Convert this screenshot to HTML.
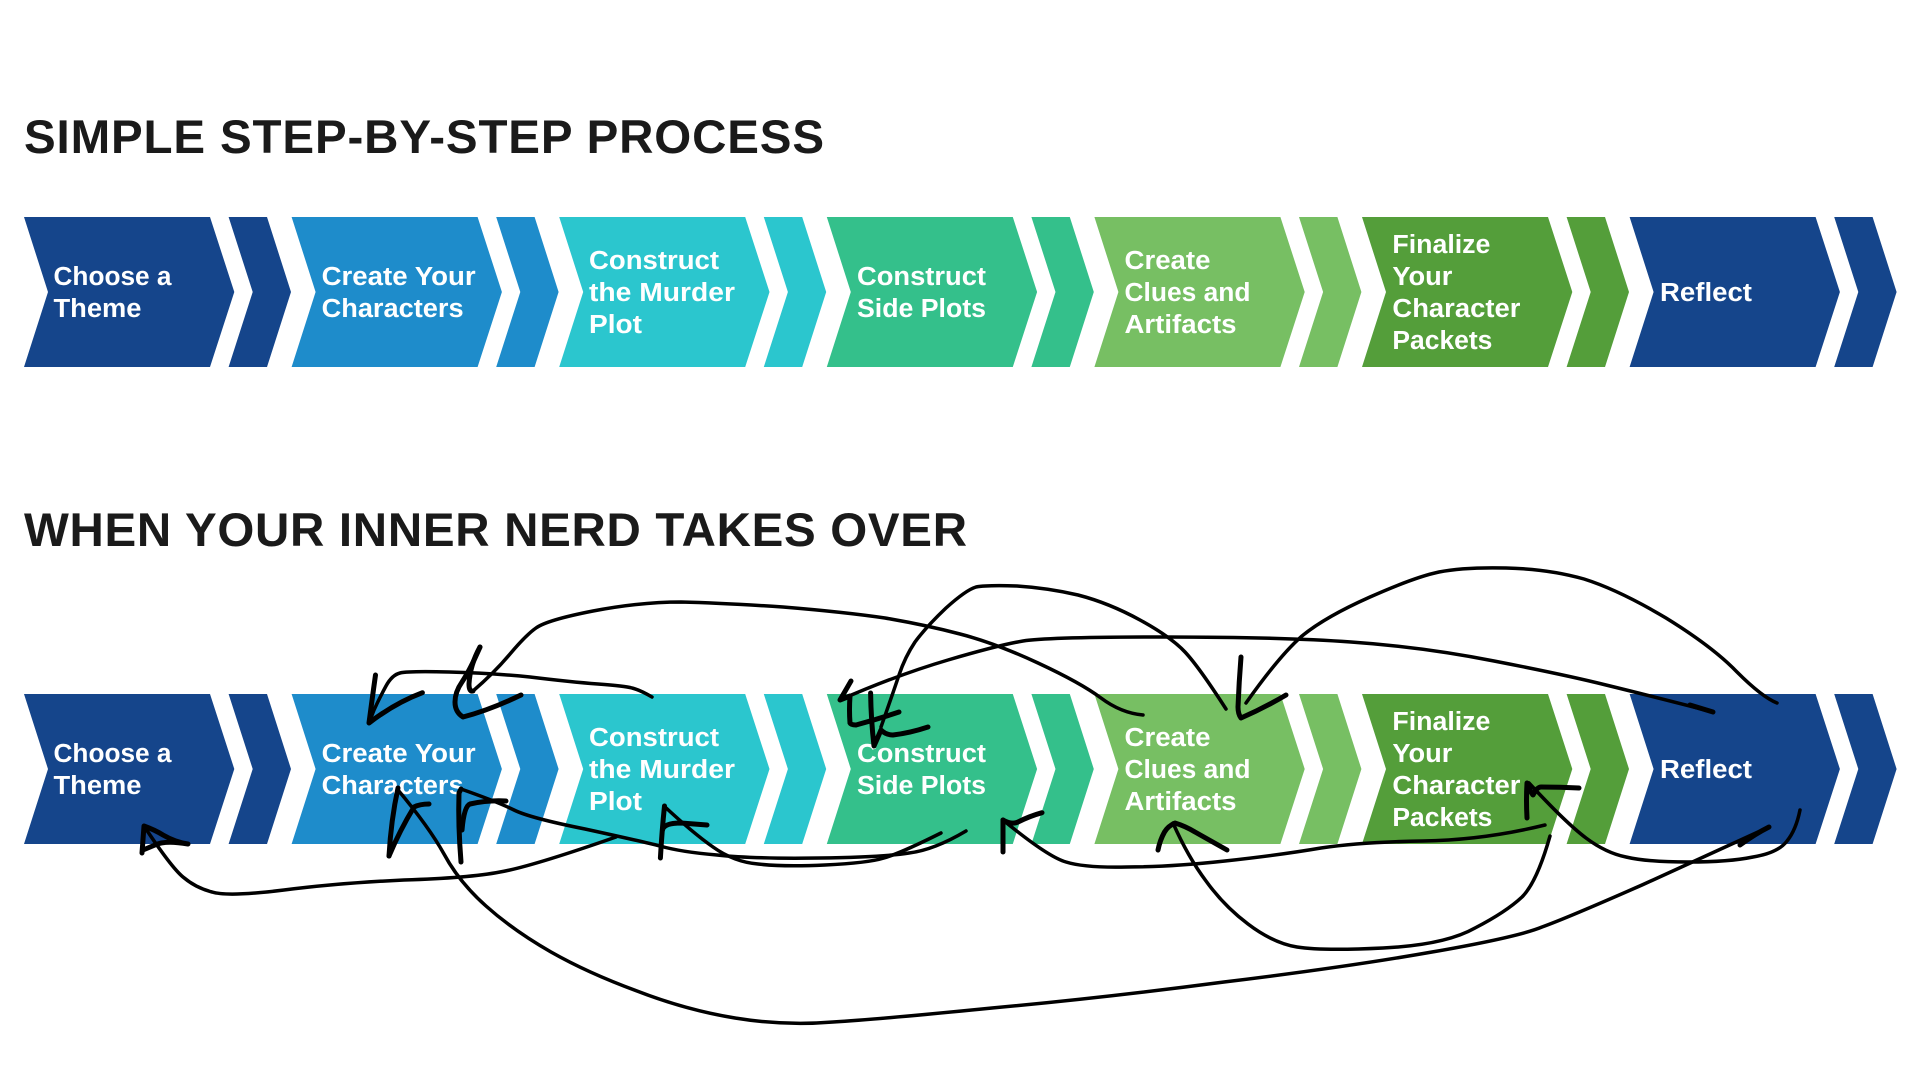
<!DOCTYPE html>
<html lang="en">
<head>
<meta charset="utf-8">
<title>Process diagram</title>
<style>
html,body{margin:0;padding:0;background:#fff}
svg{display:block}
.h{font-family:"Liberation Sans",sans-serif;font-weight:700;font-size:47.5px;fill:#1a1a1a}
.t{font-family:"Liberation Sans",sans-serif;font-weight:700;font-size:25.5px;fill:#fff}
.s{fill:none;stroke:#000;stroke-width:3.5;stroke-linecap:round;stroke-linejoin:round}
.a{fill:none;stroke:#000;stroke-width:5;stroke-linecap:round;stroke-linejoin:round}
</style>
</head>
<body>
<svg xmlns="http://www.w3.org/2000/svg" width="1920" height="1080" viewBox="0 0 1920 1080">
<rect width="1920" height="1080" fill="#fff"/>
<defs>
<g id="c">
<polygon points="24,0 210,0 234.3,75 210,150 24,150 48,75"/>
<polygon points="228.6,0 267,0 291,75 267,150 228.6,150 252.7,75"/>
</g>
<g id="row">
<use href="#c" fill="#15458b"/>
<use href="#c" x="267.6" fill="#1e8ccb"/>
<use href="#c" x="535.2" fill="#2bc6ce"/>
<use href="#c" x="802.8" fill="#34c08b"/>
<use href="#c" x="1070.4" fill="#77bf63"/>
<use href="#c" x="1338" fill="#549e3a"/>
<use href="#c" x="1605.6" fill="#15458b"/>
</g>
</defs>

<text class="h" x="24" y="153" textLength="800" lengthAdjust="spacing">SIMPLE STEP-BY-STEP PROCESS</text>
<text class="h" x="24" y="546" textLength="943" lengthAdjust="spacing">WHEN YOUR INNER NERD TAKES OVER</text>

<use href="#row" y="217"/>
<use href="#row" y="694"/>

<!-- Row 1 labels -->
<text class="t" x="53.5" y="285" textLength="118" lengthAdjust="spacingAndGlyphs">Choose a</text>
<text class="t" x="53.5" y="317" textLength="88" lengthAdjust="spacingAndGlyphs">Theme</text>
<text class="t" x="321.6" y="285" textLength="154" lengthAdjust="spacingAndGlyphs">Create Your</text>
<text class="t" x="321.6" y="317" textLength="142" lengthAdjust="spacingAndGlyphs">Characters</text>
<text class="t" x="589" y="269" textLength="130" lengthAdjust="spacingAndGlyphs">Construct</text>
<text class="t" x="589" y="301" textLength="146" lengthAdjust="spacingAndGlyphs">the Murder</text>
<text class="t" x="589" y="333" textLength="53" lengthAdjust="spacingAndGlyphs">Plot</text>
<text class="t" x="857" y="285" textLength="129" lengthAdjust="spacingAndGlyphs">Construct</text>
<text class="t" x="857" y="317" textLength="129" lengthAdjust="spacingAndGlyphs">Side Plots</text>
<text class="t" x="1124.5" y="269" textLength="86" lengthAdjust="spacingAndGlyphs">Create</text>
<text class="t" x="1124.5" y="301" textLength="126" lengthAdjust="spacingAndGlyphs">Clues and</text>
<text class="t" x="1124.5" y="333" textLength="112" lengthAdjust="spacingAndGlyphs">Artifacts</text>
<text class="t" x="1392.4" y="253" textLength="98" lengthAdjust="spacingAndGlyphs">Finalize</text>
<text class="t" x="1392.4" y="285" textLength="60" lengthAdjust="spacingAndGlyphs">Your</text>
<text class="t" x="1392.4" y="317" textLength="128" lengthAdjust="spacingAndGlyphs">Character</text>
<text class="t" x="1392.4" y="349" textLength="100" lengthAdjust="spacingAndGlyphs">Packets</text>
<text class="t" x="1660" y="301" textLength="92" lengthAdjust="spacingAndGlyphs">Reflect</text>

<!-- Row 2 labels -->
<text class="t" x="53.5" y="762" textLength="118" lengthAdjust="spacingAndGlyphs">Choose a</text>
<text class="t" x="53.5" y="794" textLength="88" lengthAdjust="spacingAndGlyphs">Theme</text>
<text class="t" x="321.6" y="762" textLength="154" lengthAdjust="spacingAndGlyphs">Create Your</text>
<text class="t" x="321.6" y="794" textLength="142" lengthAdjust="spacingAndGlyphs">Characters</text>
<text class="t" x="589" y="746" textLength="130" lengthAdjust="spacingAndGlyphs">Construct</text>
<text class="t" x="589" y="778" textLength="146" lengthAdjust="spacingAndGlyphs">the Murder</text>
<text class="t" x="589" y="810" textLength="53" lengthAdjust="spacingAndGlyphs">Plot</text>
<text class="t" x="857" y="762" textLength="129" lengthAdjust="spacingAndGlyphs">Construct</text>
<text class="t" x="857" y="794" textLength="129" lengthAdjust="spacingAndGlyphs">Side Plots</text>
<text class="t" x="1124.5" y="746" textLength="86" lengthAdjust="spacingAndGlyphs">Create</text>
<text class="t" x="1124.5" y="778" textLength="126" lengthAdjust="spacingAndGlyphs">Clues and</text>
<text class="t" x="1124.5" y="810" textLength="112" lengthAdjust="spacingAndGlyphs">Artifacts</text>
<text class="t" x="1392.4" y="730" textLength="98" lengthAdjust="spacingAndGlyphs">Finalize</text>
<text class="t" x="1392.4" y="762" textLength="60" lengthAdjust="spacingAndGlyphs">Your</text>
<text class="t" x="1392.4" y="794" textLength="128" lengthAdjust="spacingAndGlyphs">Character</text>
<text class="t" x="1392.4" y="826" textLength="100" lengthAdjust="spacingAndGlyphs">Packets</text>
<text class="t" x="1660" y="778" textLength="92" lengthAdjust="spacingAndGlyphs">Reflect</text>

<!-- Hand-drawn connectors -->
<!-- Create Clues over the top to the Characters gap -->
<path class="s" d="M1143,715 Q1121,713 1101,698 Q1081,683 1038,663 Q995,643 960,634 Q926,625 885,618 Q844,612 783,607 Q722,603 681,602 Q640,602 593,611 Q547,620 536,628 Q526,635 510,654 Q494,673 473,691"/>
<path class="a" d="M473,691 Q469,692 469,684 Q470,665 480,647"/>
<path class="a" d="M480,647 Q470,670 462,682 Q455,692 455,702 Q455,712 463,717 Q490,710 521,695"/>

<!-- Construct the Murder to Characters -->
<path class="s" d="M652,697 Q640,690 632,688 Q625,686 598,684 Q571,682 530,677 Q490,673 449,672 Q408,671 400,673 Q392,675 386,686 Q380,697 374,710 L369,723"/>
<path class="a" d="M375.5,675 Q372,700 369,723 Q395,703 422.4,692.7"/>

<!-- Construct the Murder to Choose a Theme -->
<path class="s" d="M616,837 Q530,867 500,872 Q469,878 404,880 Q339,883 284,890 Q228,897 212,892 Q196,888 183,877 Q171,867 144,826"/>
<path class="a" d="M142,853 L144,826 Q155,830 163,835 Q175,842 188,844 Q165,840 155,845 L143,850"/>

<!-- Reflect long sweep under to Characters -->
<path class="s" d="M1769,827 L1642,885 Q1567,918 1542,927 Q1518,937 1432,952 Q1347,967 1224,982 Q1102,998 992,1008 Q882,1019 833,1022 Q784,1026 735,1018 Q686,1010 637,991 Q588,973 551,952 Q514,931 486,906 Q459,882 444,854 Q429,827 398,790"/>
<path class="a" d="M1769,827 Q1755,834 1740,845"/>
<path class="a" d="M389,856 Q391,820 398,788"/>
<path class="a" d="M389,856 Q400,830 414,807 Q420,804 429,804"/>

<!-- Side Plots to Plot -->
<path class="s" d="M941,833 Q901,853 884,858 Q868,863 825,865 Q783,867 758,864 Q734,862 713,847 Q693,833 664,806"/>
<path class="a" d="M660.4,858 Q662,830 664.5,806"/>
<path class="a" d="M662.5,830 Q664,823 681,823 L707,825"/>

<!-- Side Plots to Characters -->
<path class="s" d="M966,831 Q934,850 909,853 Q885,857 820,858 Q754,859 717,855 Q681,852 660,846 Q640,841 585,829 Q530,818 514,810 Q498,802 461,789"/>
<path class="a" d="M461,862 Q458,825 459,793 L461,789"/>
<path class="a" d="M462,830 Q464,806 470,804 Q488,800 506,801"/>

<!-- Packets to Side Plots -->
<path class="s" d="M1545,825 Q1484,840 1423,841 Q1362,842 1321,848 Q1280,855 1225,861 Q1170,867 1127,867 Q1085,868 1066,862 Q1048,857 1003,820"/>
<path class="a" d="M1003,852 L1003,820"/>
<path class="a" d="M1003,820 Q1012,825 1018,822 Q1030,816 1042,812.7"/>

<!-- Finalize loop to Artifacts -->
<path class="s" d="M1550,836 Q1537,882 1522,897 Q1506,912 1475,928 Q1445,945 1383,948 Q1322,951 1297,947 Q1273,943 1248,924 Q1224,906 1206,881 Q1188,857 1173,823"/>
<path class="a" d="M1158,850 Q1160,840 1164.5,832 Q1168,826 1175,823 Q1185,826 1195,832 Q1211,841 1227,850"/>

<!-- Reflect to Packets loop -->
<path class="s" d="M1800,810 Q1796,830 1787,841 Q1778,853 1753,857 Q1729,862 1688,862 Q1647,862 1626,857 Q1606,853 1586,838 Q1566,823 1529,783"/>
<path class="a" d="M1527,818 Q1526,800 1527,783 Q1531,793 1533,795 Q1537,787 1541,787 Q1560,787 1579,788"/>

<!-- Reflect arc to Clues -->
<path class="s" d="M1777,703 Q1762,697 1737,672 Q1713,647 1666,618 Q1619,590 1584,579 Q1549,569 1506,568 Q1464,567 1439,572 Q1415,577 1370,597 Q1325,617 1302,636 Q1280,655 1246,703"/>
<path class="a" d="M1241,657 Q1239,682 1238,707 Q1238,714 1241,718 Q1264,708 1286,695"/>

<!-- Clues arc to Side Plots -->
<path class="s" d="M1226,709 Q1199,667 1185,652 Q1171,637 1140,620 Q1109,603 1078,595 Q1048,588 1017,586 Q987,585 976,587 Q966,590 946,608 Q926,627 915,642 Q905,657 899,675 Q893,693 881,727"/>
<path class="a" d="M870.6,693 Q871,720 874,746 Q878,737 881,730 Q886,735 893,735 Q910,733 928,727"/>

<!-- Reflect long arc to Construct Side Plots -->
<path class="s" d="M1713,712 Q1647,695 1606,685 Q1566,675 1494,661 Q1423,647 1351,642 Q1280,637 1164,637 Q1048,637 1023,641 Q999,645 948,660 Q897,675 840,700"/>
<path class="a" d="M851,681 L840,700 L850,696 Q849,710 850,723 Q851,725 856,725 Q878,719 899,712"/>
<path class="a" d="M1713,712 Q1700,708 1690,705"/>
</svg>
</body>
</html>
